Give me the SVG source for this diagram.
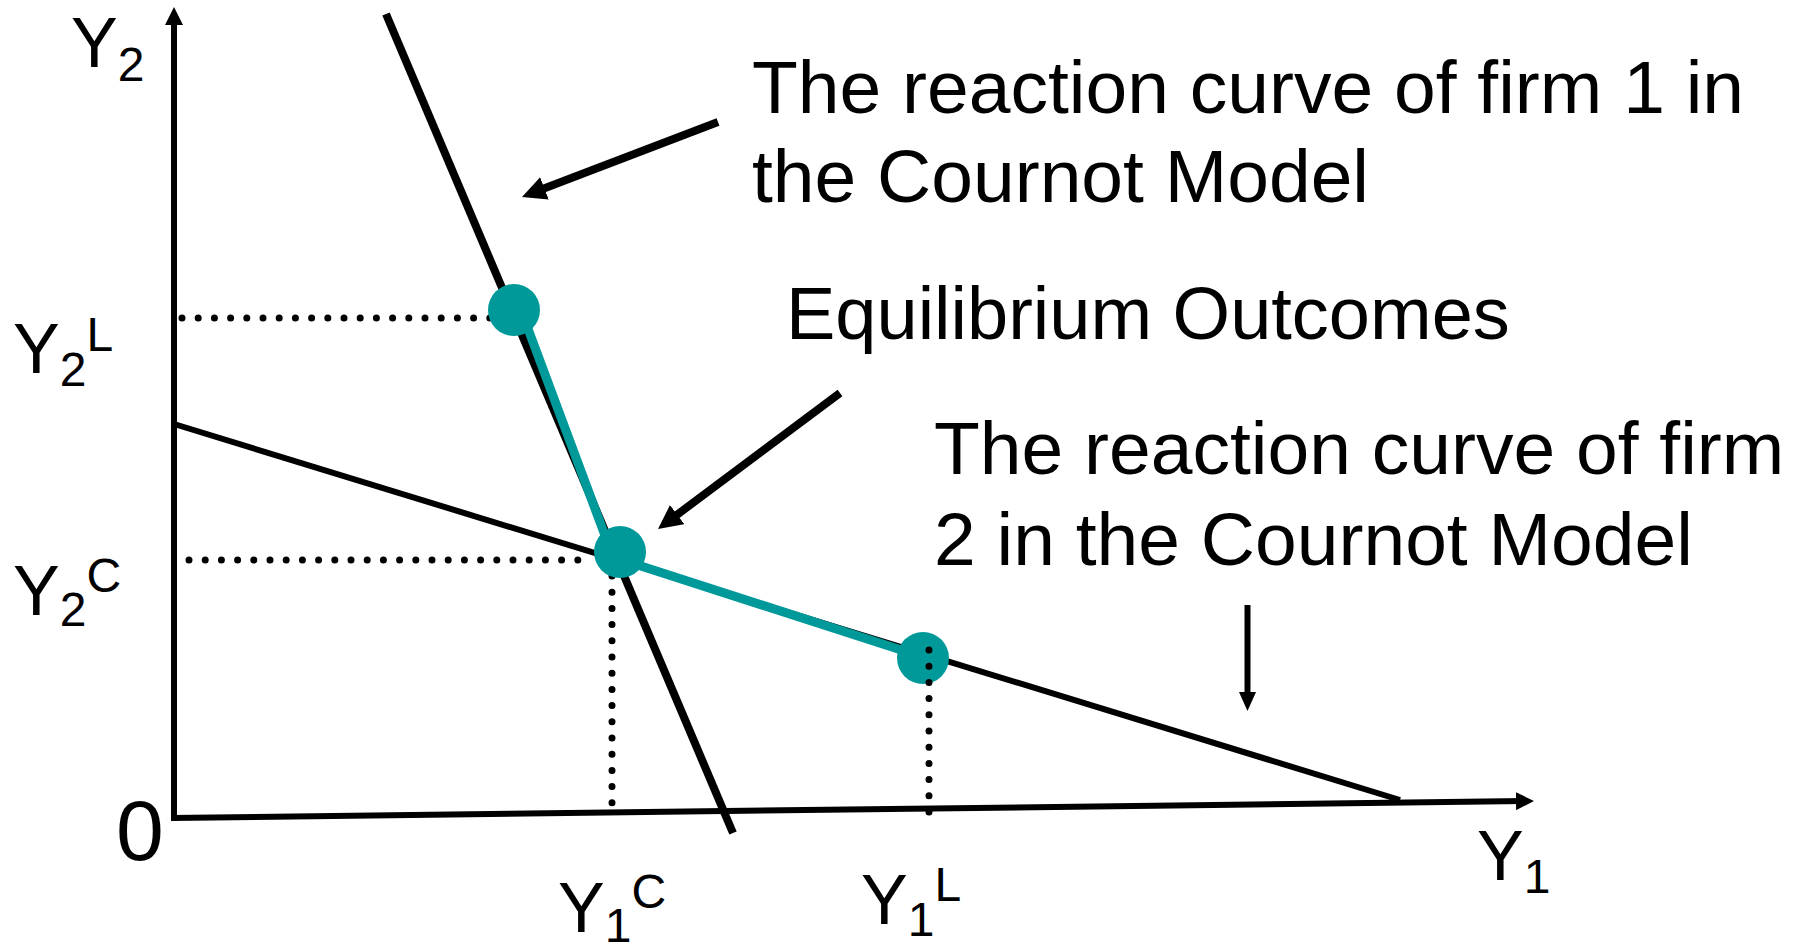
<svg xmlns="http://www.w3.org/2000/svg" width="1797" height="952" viewBox="0 0 1797 952">
<style>
text{font-family:"Liberation Sans",Arial,sans-serif;fill:#000}
.big{font-size:75px}
.ax{font-size:70px}
.s{font-size:48px}
.blk{stroke:#000;fill:none}
.dot{stroke:#000;stroke-width:7;stroke-linecap:round;stroke-dasharray:0 16.2;fill:none}
.teal{stroke:#009999;fill:none;stroke-linejoin:round}
.pt{fill:#009999}
</style>
<defs>
<marker id="axh" markerUnits="userSpaceOnUse" markerWidth="18" markerHeight="18" refX="8" refY="9" orient="auto"><path d="M0,0 L18,9 L0,18 z" fill="#000"/></marker>
<marker id="bigh" markerUnits="userSpaceOnUse" markerWidth="24" markerHeight="24" refX="9" refY="12" orient="auto"><path d="M0,0 L24,12 L0,24 z" fill="#000"/></marker>
<marker id="smh" markerUnits="userSpaceOnUse" markerWidth="19" markerHeight="17" refX="7" refY="8.5" orient="auto"><path d="M0,0 L19,8.5 L0,17 z" fill="#000"/></marker>
</defs>
<rect width="1797" height="952" fill="#fff"/>
<g id="axes">
<line class="blk" x1="174" y1="821" x2="174" y2="17" stroke-width="6" marker-end="url(#axh)"/>
<line class="blk" x1="171" y1="818" x2="1524" y2="801.1" stroke-width="6" marker-end="url(#axh)"/>
</g>
<g id="curves">
<line class="blk" x1="386" y1="14" x2="733" y2="833" stroke-width="8"/>
<line class="blk" x1="174" y1="424" x2="1400" y2="800" stroke-width="6"/>
<polyline class="teal" points="521,310 613,557 923,657" stroke-width="9"/>
</g>
<g id="guides">
<line class="dot" x1="182" y1="318" x2="490" y2="318"/>
<line class="dot" x1="189" y1="560" x2="582" y2="560"/>
<line class="dot" x1="612" y1="576" x2="612" y2="805"/>
</g>
<g id="points">
<g id="pt-y2l"><circle class="pt" cx="514" cy="310" r="26"/></g>
<g id="pt-eq"><circle class="pt" cx="620" cy="552" r="26"/></g>
<g id="pt-y1l"><circle class="pt" cx="923" cy="658" r="26"/></g>
</g>
<line class="dot" x1="929" y1="650" x2="929" y2="816"/>
<g id="connectors">
<line class="blk" x1="718" y1="122" x2="536" y2="191.6" stroke-width="8" marker-end="url(#bigh)"/>
<line class="blk" x1="840" y1="393" x2="670" y2="520" stroke-width="8" marker-end="url(#bigh)"/>
<line class="blk" x1="1247.5" y1="605" x2="1247.5" y2="699" stroke-width="6" marker-end="url(#smh)"/>
</g>
<g id="label-firm1"><text class="big" x="752" y="113">The reaction curve of firm 1 in</text><text class="big" x="752" y="202">the Cournot Model</text></g>
<g id="label-eq"><text class="big" x="786" y="339" style="font-size:74px">Equilibrium Outcomes</text></g>
<g id="label-firm2"><text class="big" x="934" y="474">The reaction curve of firm</text><text class="big" x="934" y="565">2 in the Cournot Model</text></g>
<g id="axis-labels">
<text class="ax" x="71" y="67">Y<tspan class="s" dy="14">2</tspan></text>
<text class="ax" x="13" y="373">Y<tspan class="s" dy="13">2</tspan><tspan class="s" dy="-35">L</tspan></text>
<text class="ax" x="13" y="615">Y<tspan class="s" dy="11">2</tspan><tspan class="s" dy="-34">C</tspan></text>
<text x="116" y="860" style="font-size:86px">0</text>
<text class="ax" x="558" y="932">Y<tspan class="s" dy="10">1</tspan><tspan class="s" dy="-34">C</tspan></text>
<text class="ax" x="861" y="924">Y<tspan class="s" dy="12">1</tspan><tspan class="s" dy="-35">L</tspan></text>
<text class="ax" x="1477" y="880">Y<tspan class="s" dy="13">1</tspan></text>
</g>
</svg>
